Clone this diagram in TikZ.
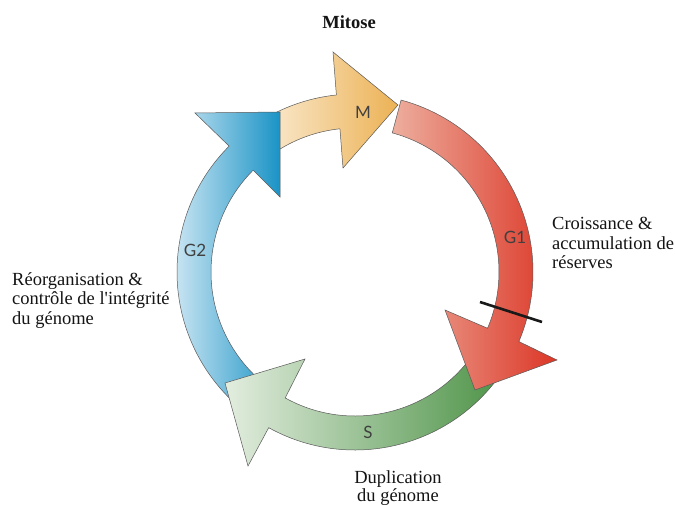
\documentclass[tikz,border=0pt]{standalone}
\usepackage{fontspec}
\setmainfont{Liberation Serif}
\newfontfamily\phasefont{Lato}
\usetikzlibrary{calc}
\definecolor{orL}{HTML}{FAEBD2}
\definecolor{orR}{HTML}{ECB255}
\definecolor{blL}{HTML}{D4EAF5}
\definecolor{blR}{HTML}{1A93C6}
\definecolor{rdL}{HTML}{EDAE9E}
\definecolor{rdR}{HTML}{DC3626}
\definecolor{grL}{HTML}{E3EDDF}
\definecolor{grR}{HTML}{4F9449}
\begin{document}
\begin{tikzpicture}[x=1pt,y=1pt,
  band/.style={draw=black!65, line width=0.5pt, line join=miter},
  phase/.style={font=\phasefont\fontsize{17}{17}\selectfont, text=black!75, inner sep=0pt},
  desc/.style={font=\fontsize{18.5}{19.5}\selectfont, inner sep=0pt, text=black!92}]
\useasboundingbox (0,0) rectangle (675,505);
\fill[white] (0,0) rectangle (675,505);
\coordinate (C) at (355,233);
% M (orange)
\draw[band, left color=orL, right color=orR]
  ($(C)+(122:178)$) arc[start angle=122,end angle=96,radius=178]
  -- (333,453) -- (398,400) -- (343,337)
  -- ($(C)+(96:144)$) arc[start angle=96,end angle=122,radius=144] -- cycle;
% G2 (blue)
\draw[band, left color=blL, right color=blR]
  ($(C)+(230:178)$) arc[start angle=230,end angle=135,radius=178]
  -- (195,392) -- (280,393) -- (280,308)
  -- ($(C)+(135:144)$) arc[start angle=135,end angle=230,radius=144] -- cycle;
% S (green)
\draw[band, left color=grL, right color=grR]
  ($(C)+(-35:178)$) arc[start angle=-35,end angle=-119,radius=178]
  -- (248,39) -- (225,122) -- (305,146)
  -- ($(C)+(-119:144)$) arc[start angle=-119,end angle=-35,radius=144] -- cycle;
% G1 (red)
\draw[band, left color=rdL, right color=rdR]
  ($(C)+(75:178)$) arc[start angle=75,end angle=-23,radius=178]
  -- (557,145) -- (475,115) -- (445,195)
  -- ($(C)+(-23:144)$) arc[start angle=-23,end angle=75,radius=144] -- cycle;
% checkpoint bar
\coordinate (cpA) at (480,203);
\coordinate (cpB) at (542,183);
\draw[line width=2.6pt, black!90] (cpA) -- (cpB);
% phase labels
\node[phase] (lM) at (363,393) {M};
\node[phase] (lG1) at (515,268) {G1};
\node[phase] (lG2) at (195,255) {G2};
\node[phase] (lS) at (368,73) {S};
% descriptions
\node[desc, font=\bfseries\fontsize{18.5}{19.5}\selectfont, anchor=base] (mit) at (349,476) {Mitose};
\node[desc, align=left, anchor=north west] (reo) at (12,232.6)
  {Réorganisation \&\\contrôle de l\textquotesingle intégrité\\du génome};
\node[desc, align=left, anchor=north west] (cro) at (552,287.6)
  {Croissance \&\\accumulation de\\réserves};
\node[desc, align=center, anchor=north, font=\fontsize{18.5}{16.5}\selectfont] (dup) at (398,34.5)
  {Duplication\\du génome};
\end{tikzpicture}
\end{document}
